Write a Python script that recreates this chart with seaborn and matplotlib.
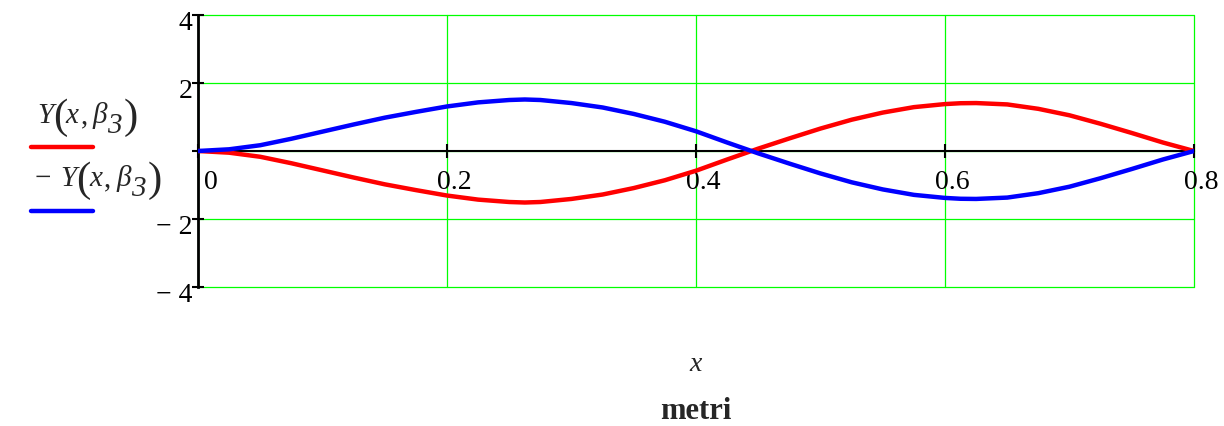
import numpy as np
import pandas as pd
import matplotlib
matplotlib.use('Agg')
import matplotlib.pyplot as plt
import matplotlib.transforms as mtransforms
from matplotlib.lines import Line2D
import seaborn as sns

# posizione lungo la trave (metri)
x_m = [0.0, 0.025, 0.05, 0.075, 0.1, 0.125, 0.15, 0.175, 0.2, 0.225, 0.25, 0.2625,
       0.275, 0.3, 0.325, 0.35, 0.375, 0.4, 0.425, 0.45, 0.475, 0.5,
       0.525, 0.55, 0.575, 0.6, 0.6125, 0.625, 0.65, 0.675, 0.7, 0.725, 0.75,
       0.775, 0.8]
# Y(x, beta3)
y_pos = [0.0, -0.05, -0.17, -0.36, -0.57, -0.78, -0.98, -1.15, -1.31, -1.43, -1.50, -1.515,
         -1.50, -1.41, -1.28, -1.09, -0.86, -0.58, -0.25, 0.07, 0.37, 0.66,
         0.92, 1.13, 1.29, 1.38, 1.405, 1.41, 1.37, 1.24, 1.05, 0.80, 0.53,
         0.25, 0.0]
# -Y(x, beta3)
y_neg = [0.0, 0.05, 0.17, 0.36, 0.57, 0.78, 0.98, 1.15, 1.31, 1.43, 1.50, 1.515,
         1.50, 1.41, 1.28, 1.09, 0.86, 0.58, 0.25, -0.07, -0.37, -0.66,
         -0.92, -1.13, -1.29, -1.38, -1.405, -1.41, -1.37, -1.24, -1.05, -0.80, -0.53,
         -0.25, 0.0]

x_ticks = [0, 0.2, 0.4, 0.6, 0.8]
x_ticklabels = ['0', '0.2', '0.4', '0.6', '0.8']
y_ticks = [-4, -2, 0, 2, 4]
y_ticklabels = ['\u2212 4', '\u2212 2', '', '2', '4']

sns.set_style('white')
plt.rcParams['font.family'] = ['Liberation Serif', 'DejaVu Serif']
plt.rcParams['font.size'] = 20

W, H = 1224, 427
fig = plt.figure(figsize=(W / 100, H / 100), dpi=100)
ax = fig.add_axes([198 / W, 1 - 288 / H, 996 / W, 272 / H])

df = pd.DataFrame({'x': x_m, 'pos': y_pos, 'neg': y_neg})
sns.lineplot(data=df, x='x', y='pos', color='#ff0000', lw=3.2, ax=ax, zorder=4)
sns.lineplot(data=df, x='x', y='neg', color='#0000ff', lw=3.2, ax=ax, zorder=5)

ax.set_xlim(0, 0.8)
ax.set_ylim(-4, 4)
ax.set_xlabel('')
ax.set_ylabel('')

ax.spines['top'].set_visible(False)
ax.spines['right'].set_visible(False)
ax.spines['bottom'].set_position(('data', 0))
ax.spines['bottom'].set_color('black')
ax.spines['bottom'].set_linewidth(1.5)
ax.spines['left'].set_color('black')
ax.spines['left'].set_linewidth(2)

ax.set_xticks(x_ticks)
ax.set_xticklabels(x_ticklabels)
ax.set_yticks(y_ticks)
ax.set_yticklabels(y_ticklabels)
ax.tick_params(axis='x', bottom=True, direction='inout', length=9.5, width=1.5, pad=8,
               labelsize=20, colors='black')
ax.tick_params(axis='y', left=True, direction='inout', length=8, width=1.5, pad=0,
               labelsize=20, colors='black')

# griglia verde (fa anche da cornice)
ax.grid(True, color='#00ff00', lw=0.9)
ax.set_axisbelow(True)
for gl in ax.get_xgridlines() + ax.get_ygridlines():
    gl.set_clip_on(False)

# etichette spostate come in Mathcad
for lab, t in zip(ax.get_xticklabels(), x_ticks):
    dx = 9 / 72 if t == 0 else 5 / 72
    lab.set_transform(lab.get_transform() +
                      mtransforms.ScaledTranslation(dx, 0, fig.dpi_scale_trans))
for lab in ax.get_yticklabels():
    lab.set_transform(lab.get_transform() +
                      mtransforms.ScaledTranslation(0, -3 / 72, fig.dpi_scale_trans))


def mathcad_text(x0, base, pieces):
    """scrive un'etichetta a pezzi (parentesi grandi, pedice) partendo da x0 px"""
    renderer = fig.canvas.get_renderer()
    x = x0
    for txt, size, style, dy, gap in pieces:
        t = fig.text(x / W, 1 - (base + dy) / H, txt, fontsize=size, style=style,
                     ha='left', va='baseline')
        x += t.get_window_extent(renderer).width + gap


# (testo, pt, stile, spostamento verticale px, spazio dopo px)
lab_pos = [('Y', 21, 'italic', 0, 0), ('(', 31, 'normal', 5, -2),
           ('x', 21, 'italic', 0, 2), (',', 21, 'normal', 0, 5),
           ('\u03b2', 21, 'italic', 0, 0), ('3', 21, 'italic', 10, 2),
           (')', 31, 'normal', 5, 0)]
lab_neg = [('\u2212', 21, 'normal', 0, 9)] + lab_pos

# legenda in stile Mathcad
mathcad_text(37, 123, lab_pos)
fig.add_artist(Line2D([31 / W, 93 / W], [1 - 148 / H, 1 - 148 / H],
                      color='#ff0000', lw=3.2, solid_capstyle='round'))
mathcad_text(35, 186, lab_neg)
fig.add_artist(Line2D([31 / W, 93 / W], [1 - 212 / H, 1 - 212 / H],
                      color='#0000ff', lw=3.2, solid_capstyle='round'))

cx = (198 + 1194) / 2 / W
fig.text(cx, 1 - 365 / H, 'x', style='italic', fontsize=20, ha='center', va='center')
fig.text(cx, 1 - 412 / H, 'metri', fontweight='bold', fontsize=22, ha='center', va='center')

fig.savefig('out.png', dpi=100)
